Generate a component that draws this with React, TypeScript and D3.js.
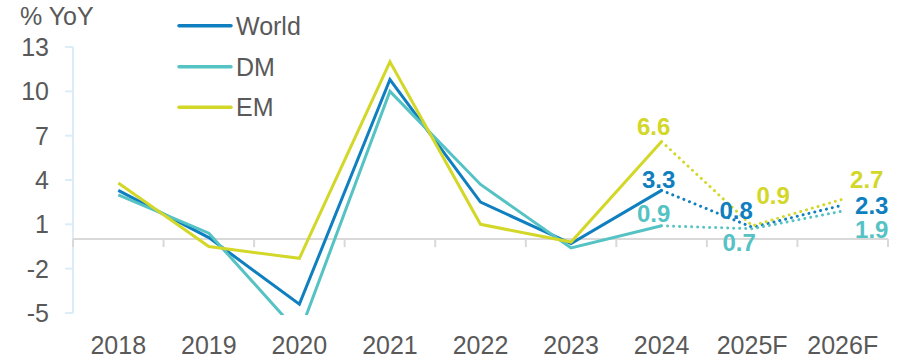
import React from "react";
import * as d3 from "d3";

const categories = ["2018", "2019", "2020", "2021", "2022", "2023", "2024", "2025F", "2026F"];
const worldValues = [3.3, 0.1, -4.4, 10.8, 2.5, -0.3, 3.3, 0.8, 2.3];
const dmValues = [3.0, 0.4, -6.4, 10.0, 3.7, -0.6, 0.9, 0.7, 1.9];
const emValues = [3.8, -0.5, -1.3, 12.0, 1.0, -0.2, 6.6, 0.9, 2.7];
const yTicks = [13, 10, 7, 4, 1, -2, -5];
const actualCount = 7; // 2018..2024 solid, forecasts dotted from 2024 onward

// label offsets (dx, dy) relative to the data point, per series, for the last three points
const worldLabelOffsets: [number, number][] = [[-3, -11], [-16, -17], [29, 0]];
const dmLabelOffsets: [number, number][] = [[-8, -12], [-13, 14], [29, 18]];
const emLabelOffsets: [number, number][] = [[-8, -15], [21, -30], [24, -20]];

const W = 897;
const H = 361;
const FONT = "'Liberation Sans', Arial, sans-serif";
const TEXT = "#595959";

const series = [
  { name: "World", values: worldValues, color: "#0f7fc0", offsets: worldLabelOffsets },
  { name: "DM", values: dmValues, color: "#55c2c4", offsets: dmLabelOffsets },
  { name: "EM", values: emValues, color: "#d3d727", offsets: emLabelOffsets },
];

export default function App() {
  const x = d3.scaleBand<string>().domain(categories).range([73, 888]).padding(0);
  const y = d3.scaleLinear().domain([-5, 13]).range([313, 47]);
  const cx = (c: string) => (x(c) as number) + x.bandwidth() / 2;

  const line = d3
    .line<[string, number]>()
    .x((d) => cx(d[0]))
    .y((d) => y(d[1]));

  const boundaries = d3.range(categories.length + 1).map((i) => 73 + i * x.bandwidth());

  return (
    <svg
      width={W}
      height={H}
      style={{ position: "absolute", left: 0, top: 0, background: "#fff" }}
      fontFamily={FONT}
    >
      <defs>
        <clipPath id="plot-clip">
          <rect x={60} y={20} width={840} height={y(-5) + 2 - 20} />
        </clipPath>
      </defs>

      {/* y axis */}
      <line x1={73} x2={73} y1={y(13)} y2={y(-5)} stroke="#dcedf8" strokeWidth={2} />
      {yTicks.map((t) => (
        <g key={t}>
          <line x1={65} x2={73} y1={y(t)} y2={y(t)} stroke="#dcedf8" strokeWidth={2} />
          <text
            x={49}
            y={y(t)}
            textAnchor="end"
            dominantBaseline="central"
            fontSize={25}
            fill={TEXT}
          >
            {t}
          </text>
        </g>
      ))}

      {/* zero baseline with category ticks */}
      <line x1={73} x2={888} y1={y(0)} y2={y(0)} stroke="#d9d9d9" strokeWidth={2} />
      {boundaries.map((bx, i) => (
        <line key={i} x1={bx} x2={bx} y1={y(0)} y2={y(0) + 8} stroke="#d9d9d9" strokeWidth={2} />
      ))}
      {categories.map((c) => (
        <text key={c} x={cx(c)} y={354} textAnchor="middle" fontSize={25} fill={TEXT}>
          {c}
        </text>
      ))}

      <text x={20} y={25} fontSize={25} fill={TEXT}>
        % YoY
      </text>

      {/* series lines */}
      <g clipPath="url(#plot-clip)">
        {series.map((s) => {
          const pts: [string, number][] = categories.map((c, i) => [c, s.values[i]]);
          return (
            <g key={s.name}>
              <path
                d={line(pts.slice(0, actualCount)) || ""}
                fill="none"
                stroke={s.color}
                strokeWidth={3}
                strokeLinejoin="miter"
              />
              <path
                d={line(pts.slice(actualCount - 1)) || ""}
                fill="none"
                stroke={s.color}
                strokeWidth={3}
                strokeDasharray="0.01 6"
                strokeLinecap="round"
              />
            </g>
          );
        })}
      </g>

      {/* value labels */}
      {series.map((s) =>
        categories.slice(actualCount - 1).map((c, j) => {
          const v = s.values[actualCount - 1 + j];
          const [dx, dy] = s.offsets[j];
          return (
            <text
              key={s.name + c}
              x={cx(c) + dx}
              y={y(v) + dy}
              textAnchor="middle"
              dominantBaseline="central"
              fontSize={24}
              fontWeight="bold"
              fill={s.color}
            >
              {v.toFixed(1)}
            </text>
          );
        })
      )}

      {/* legend */}
      {series.map((s, i) => {
        const ly = [25.7, 66.7, 107.3][i];
        return (
          <g key={s.name}>
            <line x1={179} x2={231} y1={ly} y2={ly} stroke={s.color} strokeWidth={3.5} strokeLinecap="round" />
            <text x={236} y={ly} dominantBaseline="central" fontSize={25} fill={TEXT}>
              {s.name}
            </text>
          </g>
        );
      })}
    </svg>
  );
}
